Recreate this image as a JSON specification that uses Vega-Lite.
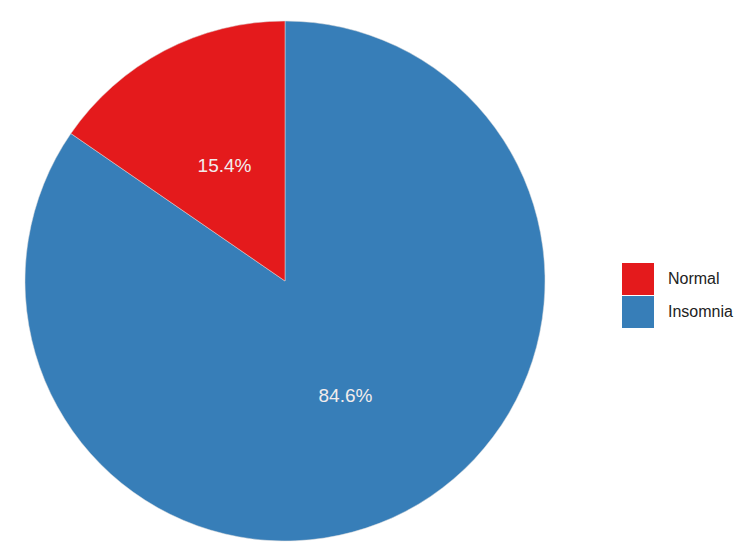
{
  "$schema": "https://vega.github.io/schema/vega-lite/v6.json",
  "width": 570,
  "height": 562,
  "autosize": "none",
  "padding": {"left": 0, "top": 0, "right": 180, "bottom": 0},
  "background": "white",
  "data": {"values": [
    {"group": "Insomnia", "value": 84.6, "label": "84.6%", "rank": 1},
    {"group": "Normal", "value": 15.4, "label": "15.4%", "rank": 2}
  ]},
  "encoding": {
    "theta": {"field": "value", "type": "quantitative", "stack": true},
    "order": {"field": "rank", "type": "quantitative"},
    "color": {
      "field": "group", "type": "nominal",
      "scale": {"domain": ["Normal", "Insomnia"], "range": ["#E41A1C", "#377EB8"]},
      "legend": {
        "title": null, "orient": "none", "legendX": 622, "legendY": 263,
        "symbolType": "square", "symbolSize": 1024, "symbolStrokeWidth": 0,
        "labelFont": "Liberation Sans", "labelFontSize": 16, "labelColor": "#222222",
        "labelOffset": 14, "rowPadding": 1
      }
    }
  },
  "layer": [
    {"mark": {"type": "arc", "outerRadius": 260, "stroke": "#dddddd", "strokeWidth": 0.5}},
    {"mark": {"type": "text", "radius": 130, "font": "Liberation Sans", "fontSize": 19, "color": "#f2ecec"},
     "encoding": {"text": {"field": "label"}, "color": {"value": "#f2ecec"}}}
  ]
}
